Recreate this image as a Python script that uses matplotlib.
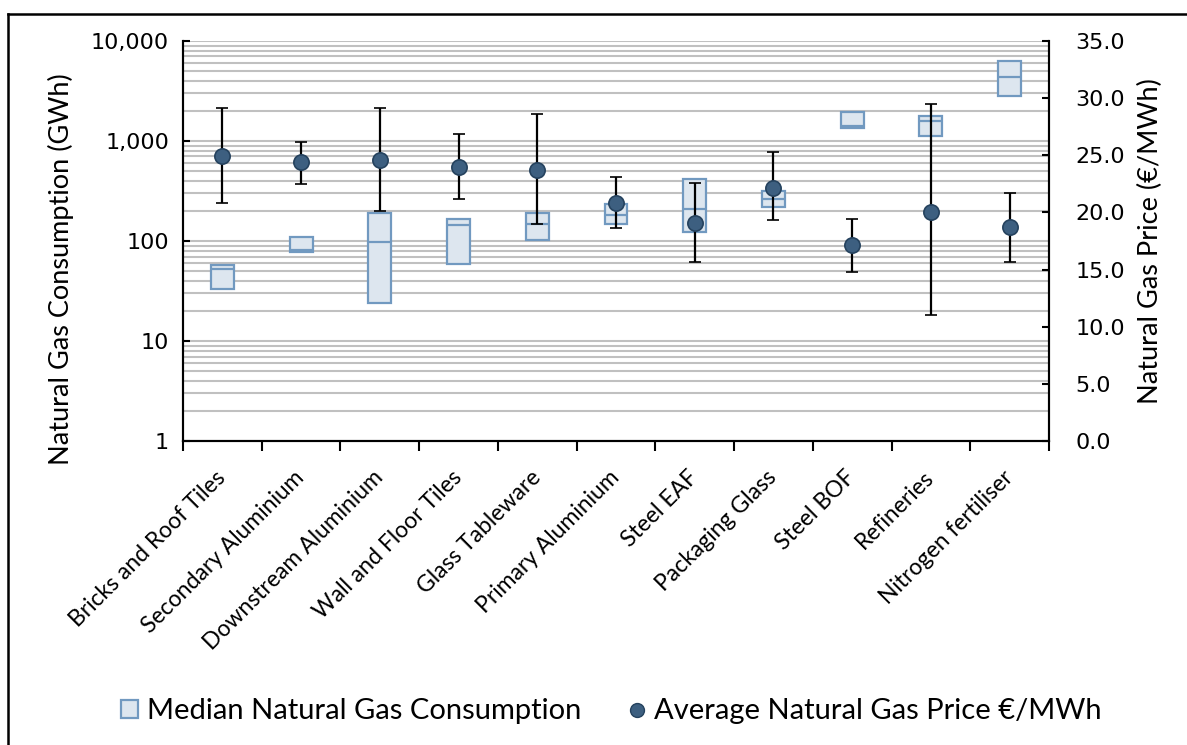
import numpy as np
import matplotlib.pyplot as plt
from matplotlib.lines import Line2D
from matplotlib.patches import Patch
from matplotlib.ticker import FixedLocator, FuncFormatter, LogLocator, NullFormatter

plt.rcParams['font.family'] = ['DejaVu Sans']

# sectors
sectors = ['Bricks and Roof Tiles', 'Secondary Aluminium', 'Downstream Aluminium',
           'Wall and Floor Tiles', 'Glass Tableware', 'Primary Aluminium', 'Steel EAF',
           'Packaging Glass', 'Steel BOF', 'Refineries', 'Nitrogen fertiliser']

# gas consumption per plant (GWh): lower/upper quartile and median
cons_low = [33, 78, 24, 59, 102, 147, 123, 220, 1349, 1122, 2800]
cons_high = [58, 110, 192, 166, 192, 233, 414, 316, 1950, 1766, 6266]
cons_median = [52, 81, 98, 145, 147, 182, 210, 261, 1422, 1596, 4395]

# gas price (EUR/MWh): average with min/max range
price_avg = [24.9, 24.4, 24.55, 24.0, 23.7, 20.8, 19.05, 22.1, 17.15, 20.05, 18.7]
price_min = [20.85, 22.5, 20.1, 21.2, 19.0, 18.6, 15.7, 19.3, 14.8, 11.0, 15.7]
price_max = [29.1, 26.2, 29.1, 26.9, 28.6, 23.1, 22.55, 25.3, 19.45, 29.45, 21.7]

box_fill = '#dde6ef'
box_edge = '#7199c0'
dot_color = '#3d5f80'
dot_edge = '#25425e'

cat_font = ['Lato', 'DejaVu Sans']

fig = plt.figure(figsize=(11.87, 7.45), dpi=100)
ax = fig.add_axes([0.1542, 0.408, 0.7295, 0.537])
x = np.arange(len(sectors))

# consumption boxes on the log axis
low = np.array(cons_low)
high = np.array(cons_high)
ax.bar(x, high - low, bottom=low, width=0.29, color=box_fill, edgecolor=box_edge,
       linewidth=1.6, zorder=3)
ax.hlines(cons_median, x - 0.145, x + 0.145, color=box_edge, linewidth=1.6, zorder=4)

ax.set_yscale('log')
ax.set_ylim(1, 10000)
ax.set_xlim(-0.5, len(sectors) - 0.5)
ax.yaxis.set_major_locator(LogLocator(base=10))
ax.yaxis.set_minor_locator(LogLocator(base=10, subs=np.arange(2, 10)))
ax.yaxis.set_minor_formatter(NullFormatter())
ax.yaxis.set_major_formatter(FuncFormatter(lambda v, p: f'{v:,.0f}'))
ax.grid(which='both', axis='y', color='#c0c0c0', linewidth=1.5, zorder=0)
ax.set_axisbelow(True)
ax.tick_params(axis='y', which='major', direction='in', length=5, width=1.5,
               labelsize=16, pad=10)
ax.tick_params(axis='y', which='minor', length=0)

ax.set_xticks(x)
ax.set_xticklabels(sectors, rotation=45, ha='right', va='center', rotation_mode='anchor',
                   fontsize=16.5, family=cat_font)
ax.xaxis.set_minor_locator(FixedLocator(np.arange(-0.5, len(sectors), 1.0)))
ax.tick_params(axis='x', which='major', length=0, pad=24)
ax.tick_params(axis='x', which='minor', direction='out', length=7, width=1.5)
ax.set_ylabel('Natural Gas Consumption (GWh)', fontsize=19.5, family=cat_font)
ax.yaxis.set_label_coords(-0.126, 0.43)

for side in ['left', 'right', 'bottom']:
    ax.spines[side].set_linewidth(1.5)
ax.spines['top'].set_visible(False)

# price on secondary axis
ax2 = ax.twinx()
err = [np.array(price_avg) - np.array(price_min), np.array(price_max) - np.array(price_avg)]
ax2.errorbar(x, price_avg, yerr=err, fmt='o', color=dot_color, markersize=11,
             markeredgecolor=dot_edge, markeredgewidth=1.2, ecolor='black',
             elinewidth=1.6, capsize=4, capthick=1.6, zorder=5)
ax2.set_ylim(0, 35)
ax2.set_yticks(np.arange(0, 36, 5))
ax2.yaxis.set_major_formatter(FuncFormatter(lambda v, p: f'{v:.1f}'))
ax2.tick_params(axis='y', direction='in', length=5, width=1.5, labelsize=16, pad=19)
ax2.set_ylabel('Natural Gas Price (€/MWh)', fontsize=19.5, family=cat_font)
ax2.yaxis.set_label_coords(1.1028, 0.5)
ax2.spines['top'].set_visible(False)
for side in ['left', 'right', 'bottom']:
    ax2.spines[side].set_linewidth(1.5)

# legend along the bottom
handles = [Patch(facecolor=box_fill, edgecolor=box_edge, linewidth=1.6),
           Line2D([], [], marker='o', linestyle='none', markersize=10,
                  markerfacecolor=dot_color, markeredgecolor=dot_edge)]
labels = ['Median Natural Gas Consumption', 'Average Natural Gas Price €/MWh']
fig.legend(handles, labels, loc='center', bbox_to_anchor=(0.515, 0.045), ncol=2,
           frameon=False, prop={'family': cat_font, 'size': 21}, handlelength=0.6,
           handleheight=0.6, handletextpad=0.3, columnspacing=1.6)

# outer frame
fig.add_artist(Line2D([7.5 / 1187, 7.5 / 1187], [0, 1 - 14 / 745], color='black', linewidth=1.8))
fig.add_artist(Line2D([7.5 / 1187, 1], [1 - 14 / 745, 1 - 14 / 745], color='black', linewidth=1.8))

fig.savefig('out.png', dpi=100)
